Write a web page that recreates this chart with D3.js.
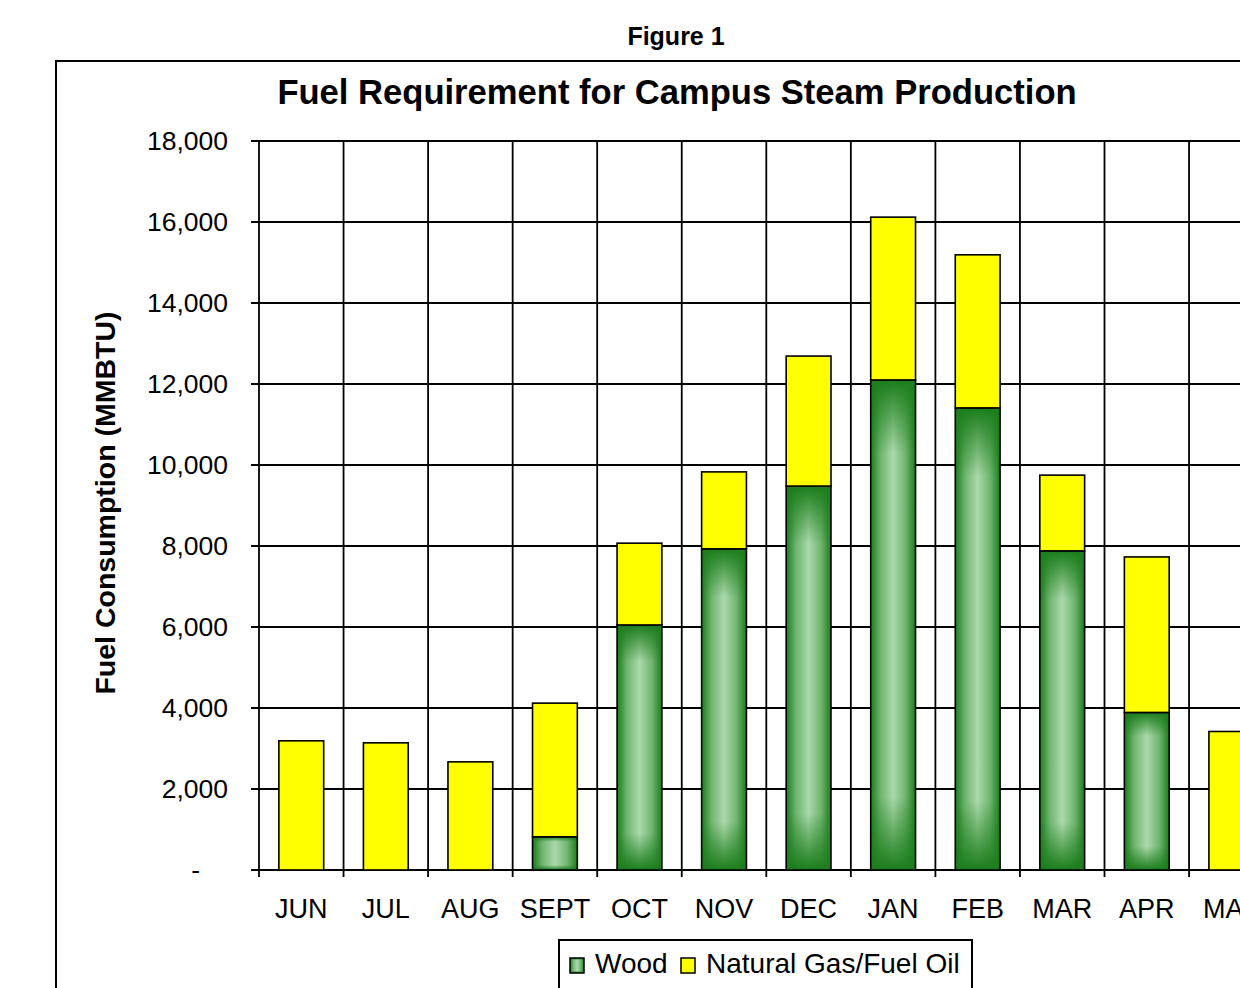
<!DOCTYPE html>
<html>
<head>
<meta charset="utf-8">
<script src="https://cdn.jsdelivr.net/npm/d3@7"></script>
<style>
body { margin: 0; background: #fff; overflow: hidden; }
text { font-family: "Liberation Sans", Arial, sans-serif; fill: #000; }
</style>
</head>
<body>
<svg id="chart" width="1240" height="988"></svg>
<script>
// values (MMBTU)
var months = ["JUN", "JUL", "AUG", "SEPT", "OCT", "NOV", "DEC", "JAN", "FEB", "MAR", "APR", "MAY"];
var wood = [0, 0, 0, 820, 6050, 7930, 9480, 12100, 11410, 7880, 3890, 0];
var gas = [3190, 3140, 2670, 3300, 2020, 1900, 3210, 4020, 3780, 1870, 3840, 3420];
var yTicks = [0, 2000, 4000, 6000, 8000, 10000, 12000, 14000, 16000, 18000];
var seriesNames = ["Wood", "Natural Gas/Fuel Oil"];

const dkGreen = "#1b7d1b";
const midGreen = "#6fb46f";
const ltGreen = "#acd9ac";
const yellow = "#ffff00";

var svg = d3.select("#chart");

// gradients for the wood bars: horizontal dark-light-dark, plus dark fade at top/bottom
var defs = svg.append("defs");
var hg = defs.append("linearGradient").attr("id", "woodH")
    .attr("x1", 0).attr("x2", 1).attr("y1", 0).attr("y2", 0);
[[0, dkGreen], [0.22, midGreen], [0.5, ltGreen], [0.78, midGreen], [1, dkGreen]].forEach(s =>
    hg.append("stop").attr("offset", s[0]).attr("stop-color", s[1]));
var vg = defs.append("linearGradient").attr("id", "woodV")
    .attr("x1", 0).attr("x2", 0).attr("y1", 0).attr("y2", 1);
[[0, 1], [0.15, 0], [0.85, 0], [1, 1]].forEach(s =>
    vg.append("stop").attr("offset", s[0]).attr("stop-color", dkGreen).attr("stop-opacity", s[1]));

// Figure label and chart frame
svg.append("text").attr("x", 676).attr("y", 45)
    .attr("text-anchor", "middle").style("font-size", "25px").style("font-weight", "bold")
    .text("Figure 1");
svg.append("rect").attr("x", 56).attr("y", 61).attr("width", 1400).attr("height", 1100)
    .attr("fill", "none").attr("stroke", "#000").attr("stroke-width", 2);
svg.append("text").attr("x", 677).attr("y", 104)
    .attr("text-anchor", "middle").style("font-size", "34.6px").style("font-weight", "bold")
    .text("Fuel Requirement for Campus Steam Production");

var x0 = 259, step = 84.55;
var plotTop = 141, plotBot = 870;

var x = d3.scaleBand().domain(months)
    .range([x0, x0 + step * months.length])
    .paddingInner(0.47).paddingOuter(0.235);
var y = d3.scaleLinear().domain([0, 18000]).range([plotBot, plotTop]);

var g = svg.append("g");

// horizontal grid + left ticks
g.selectAll(".hgrid").data(yTicks).enter().append("line")
    .attr("x1", x0 - 8).attr("x2", 1300)
    .attr("y1", d => y(d)).attr("y2", d => y(d))
    .attr("stroke", "#000").attr("stroke-width", 1.8);

// vertical grid at category boundaries, with ticks below the axis
var bounds = d3.range(months.length + 1).map(i => x.range()[0] + i * x.step());
g.selectAll(".vgrid").data(bounds).enter().append("line")
    .attr("x1", d => d).attr("x2", d => d)
    .attr("y1", plotTop).attr("y2", plotBot + 7)
    .attr("stroke", "#000").attr("stroke-width", 1.8);

// y tick labels
g.selectAll(".ylab").data(yTicks).enter().append("text")
    .attr("x", d => d === 0 ? 200 : 228)
    .attr("y", d => y(d))
    .attr("dy", "0.35em")
    .attr("text-anchor", "end")
    .style("font-size", "26.5px")
    .text(d => d === 0 ? "-" : d3.format(",")(d));

// x tick labels
g.selectAll(".xlab").data(months).enter().append("text")
    .attr("x", d => x(d) + x.bandwidth() / 2)
    .attr("y", 918)
    .attr("text-anchor", "middle")
    .style("font-size", "27px")
    .text(d => d);

// stacked bars
var rows = months.map((m, i) => ({month: m, wood: wood[i], gas: gas[i]}));
var stack = d3.stack().keys(["wood", "gas"])(rows);

function drawSeg(sel, isWood) {
    if (isWood) {
        sel.append("rect").attr("fill", "url(#woodH)")
            .attr("x", d => x(d.data.month)).attr("width", x.bandwidth())
            .attr("y", d => y(d[1])).attr("height", d => y(d[0]) - y(d[1]));
        sel.append("rect").attr("fill", "url(#woodV)")
            .attr("x", d => x(d.data.month)).attr("width", x.bandwidth())
            .attr("y", d => y(d[1])).attr("height", d => y(d[0]) - y(d[1]));
    }
    sel.append("rect").attr("fill", isWood ? "none" : yellow)
        .attr("stroke", "#000").attr("stroke-width", 1.6)
        .attr("x", d => x(d.data.month)).attr("width", x.bandwidth())
        .attr("y", d => y(d[1])).attr("height", d => y(d[0]) - y(d[1]));
}

stack.forEach(function(s) {
    var segs = g.append("g").selectAll("g")
        .data(s.filter(d => d[1] - d[0] > 0))
        .enter().append("g");
    drawSeg(segs, s.key === "wood");
});

// legend
var lg = svg.append("g");
lg.append("rect").attr("x", 559).attr("y", 940).attr("width", 413).attr("height", 80)
    .attr("fill", "#fff").attr("stroke", "#000").attr("stroke-width", 2);
var swX = [570, 681], txX = [595, 706];
seriesNames.forEach(function(name, i) {
    if (i === 0) {
        lg.append("rect").attr("x", swX[i]).attr("y", 958).attr("width", 14).attr("height", 15)
            .attr("fill", "url(#woodH)");
        lg.append("rect").attr("x", swX[i]).attr("y", 958).attr("width", 14).attr("height", 15)
            .attr("fill", "url(#woodV)");
    }
    lg.append("rect").attr("x", swX[i]).attr("y", 958).attr("width", 14).attr("height", 15)
        .attr("fill", i === 0 ? "none" : yellow)
        .attr("stroke", "#000").attr("stroke-width", 1.5);
    lg.append("text").attr("x", txX[i]).attr("y", 973)
        .style("font-size", "28px").text(name);
});

// y axis title
svg.append("text")
    .attr("transform", "translate(115,503) rotate(-90)")
    .attr("text-anchor", "middle")
    .style("font-size", "28.5px").style("font-weight", "bold")
    .text("Fuel Consumption (MMBTU)");
</script>
</body>
</html>
